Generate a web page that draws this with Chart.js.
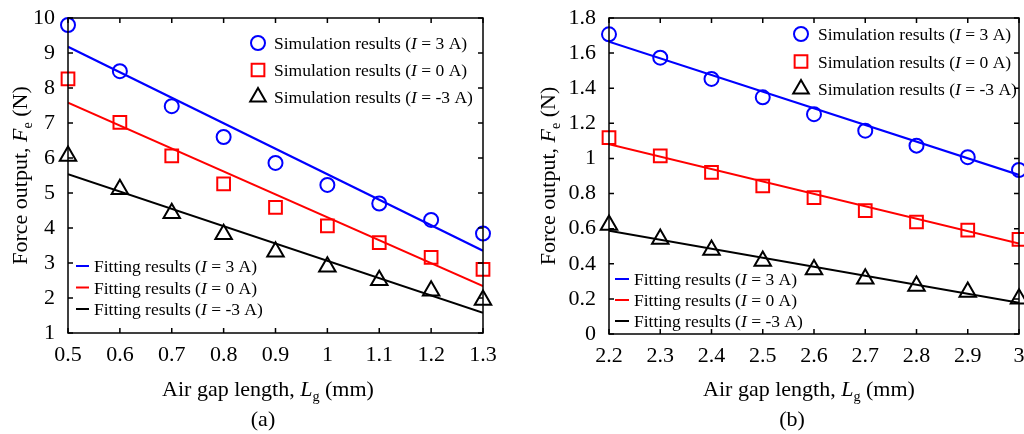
<!DOCTYPE html>
<html>
<head>
<meta charset="utf-8">
<script src="https://cdn.jsdelivr.net/npm/chart.js@4"></script>
<style>
  html, body { margin: 0; padding: 0; background: #fff; }
  .panel { position: absolute; top: 0; width: 512px; height: 434px; }
  #panel-a { left: 0; }
  #panel-b { left: 512px; }
</style>
</head>
<body>
<div class="panel" id="panel-a"><canvas id="chart-a" width="512" height="434"></canvas></div>
<div class="panel" id="panel-b"><canvas id="chart-b" width="512" height="434"></canvas></div>
<script>
// (a) air gap 0.5 - 1.3 mm
const gapA = [0.5, 0.6, 0.7, 0.8, 0.9, 1.0, 1.1, 1.2, 1.3];
const simA_pos3 = [9.80, 8.48, 7.48, 6.60, 5.86, 5.23, 4.70, 4.23, 3.84];
const simA_zero = [8.26, 7.02, 6.06, 5.26, 4.59, 4.06, 3.58, 3.16, 2.82];
const simA_neg3 = [6.06, 5.11, 4.42, 3.82, 3.32, 2.89, 2.51, 2.21, 1.94];
const fitGapA = [0.5, 1.3];
const fitA_pos3 = [9.18, 3.35];
const fitA_zero = [7.58, 2.34];
const fitA_neg3 = [5.54, 1.58];

// (b) air gap 2.2 - 3.0 mm
const gapB = [2.2, 2.3, 2.4, 2.5, 2.6, 2.7, 2.8, 2.9, 3.0];
const simB_pos3 = [1.707, 1.574, 1.453, 1.348, 1.252, 1.158, 1.073, 1.007, 0.934];
const simB_zero = [1.118, 1.014, 0.921, 0.843, 0.777, 0.703, 0.638, 0.592, 0.539];
const simB_neg3 = [0.621, 0.541, 0.478, 0.416, 0.368, 0.315, 0.273, 0.239, 0.201];
const fitGapB = [2.2, 3.0];
const fitB_pos3 = [1.665, 0.906];
const fitB_zero = [1.081, 0.516];
const fitB_neg3 = [0.588, 0.178];

const legendSim = ["3", "0", "-3"];
const legendFit = ["3", "0", "-3"];

const SERIF = "'Liberation Serif', 'Times New Roman', serif";
const BLUE = "#0000ff";
const RED = "#ff0000";
const BLACK = "#000000";

function pts(xs, ys) {
  return xs.map((x, i) => ({ x: x, y: ys[i] }));
}

// text made of runs: {t, it (italic), sub (subscript)}
function richWidth(ctx, runs, size) {
  let w = 0;
  runs.forEach(r => {
    const s = r.sub ? size * 0.65 : size;
    ctx.font = (r.it ? "italic " : "") + s + "px " + SERIF;
    w += ctx.measureText(r.t).width;
  });
  return w;
}

function drawRich(ctx, runs, x, y, size, align) {
  let cx = x;
  if (align === "center") cx = x - richWidth(ctx, runs, size) / 2;
  ctx.textBaseline = "alphabetic";
  ctx.textAlign = "left";
  runs.forEach(r => {
    const s = r.sub ? size * 0.65 : size;
    ctx.font = (r.it ? "italic " : "") + s + "px " + SERIF;
    ctx.fillText(r.t, cx, r.sub ? y + size * 0.22 : y);
    cx += ctx.measureText(r.t).width;
  });
}

const framePlugin = {
  id: "frame",
  afterDraw(chart, args, o) {
    const ctx = chart.ctx;
    const a = chart.chartArea;
    const xs = chart.scales.x, ys = chart.scales.y;
    ctx.save();
    ctx.strokeStyle = "#000";
    ctx.lineWidth = 1.5;
    ctx.strokeRect(a.left, a.top, a.right - a.left, a.bottom - a.top);
    const tl = 5;
    ctx.beginPath();
    xs.ticks.forEach(t => {
      const px = xs.getPixelForValue(t.value);
      ctx.moveTo(px, a.bottom); ctx.lineTo(px, a.bottom - tl);
      ctx.moveTo(px, a.top); ctx.lineTo(px, a.top + tl);
    });
    ys.ticks.forEach(t => {
      const py = ys.getPixelForValue(t.value);
      ctx.moveTo(a.left, py); ctx.lineTo(a.left + tl, py);
      ctx.moveTo(a.right, py); ctx.lineTo(a.right - tl, py);
    });
    ctx.stroke();

    ctx.fillStyle = "#000";
    // axis titles
    drawRich(ctx, [{ t: "Air gap length, " }, { t: "L", it: true }, { t: "g", sub: true }, { t: " (mm)" }],
      o.xTitleX, 396, 22, "center");
    ctx.font = "22px " + SERIF;
    ctx.textAlign = "center";
    ctx.fillText(o.label, o.labelX, 426);
    ctx.save();
    ctx.translate(o.yTitleX, (a.top + a.bottom) / 2);
    ctx.rotate(-Math.PI / 2);
    drawRich(ctx, [{ t: "Force output, " }, { t: "F", it: true }, { t: "e", sub: true }, { t: " (N)" }],
      0, 0, 22, "center");
    ctx.restore();

    // simulation legend
    const styles = ["circle", "rect", "triangle"];
    const cols = [BLUE, RED, BLACK];
    const radii = [7, 9, 9];
    o.simRows.forEach((ry, i) => {
      ctx.strokeStyle = cols[i];
      ctx.fillStyle = "rgba(0,0,0,0)";
      ctx.lineWidth = 2;
      Chart.helpers.drawPoint(ctx, { pointStyle: styles[i], radius: radii[i], borderWidth: 2 }, o.simMarkX, ry);
      ctx.fillStyle = "#000";
      drawRich(ctx, [{ t: "Simulation results (" }, { t: "I", it: true }, { t: " = " + legendSim[i] + " A)" }],
        o.simTextX, ry + 6, 17.5);
    });
    // fitting legend
    o.fitRows.forEach((ry, i) => {
      ctx.strokeStyle = cols[i];
      ctx.lineWidth = 2;
      ctx.beginPath();
      ctx.moveTo(o.fitLine[0], ry);
      ctx.lineTo(o.fitLine[1], ry);
      ctx.stroke();
      ctx.fillStyle = "#000";
      drawRich(ctx, [{ t: "Fitting results (" }, { t: "I", it: true }, { t: " = " + legendFit[i] + " A)" }],
        o.fitTextX, ry + 6, 17.5);
    });
    ctx.restore();
  }
};

function makeChart(id, cfg) {
  const tickFont = { family: SERIF, size: 22 };
  const fmt = v => String(Number(v.toFixed(1)));
  return new Chart(document.getElementById(id), {
    type: "scatter",
    data: {
      datasets: [
        { data: pts(cfg.gap, cfg.sim[0]), pointStyle: "circle", pointRadius: 7, borderColor: BLUE, backgroundColor: "transparent", pointBorderWidth: 2, showLine: false, clip: false },
        { data: pts(cfg.gap, cfg.sim[1]), pointStyle: "rect", pointRadius: 9, borderColor: RED, backgroundColor: "transparent", pointBorderWidth: 2, showLine: false, clip: false },
        { data: pts(cfg.gap, cfg.sim[2]), pointStyle: "triangle", pointRadius: 9.5, borderColor: BLACK, backgroundColor: "transparent", pointBorderWidth: 2, showLine: false, clip: false },
        { type: "line", data: pts(cfg.fitGap, cfg.fit[0]), borderColor: BLUE, borderWidth: 2.2, pointRadius: 0 },
        { type: "line", data: pts(cfg.fitGap, cfg.fit[1]), borderColor: RED, borderWidth: 2, pointRadius: 0 },
        { type: "line", data: pts(cfg.fitGap, cfg.fit[2]), borderColor: BLACK, borderWidth: 2, pointRadius: 0 }
      ]
    },
    options: {
      responsive: false,
      animation: false,
      devicePixelRatio: 1,
      layout: { autoPadding: false, padding: { left: 0, right: cfg.padRight, top: 18, bottom: 0 } },
      plugins: {
        legend: { display: false },
        tooltip: { enabled: false },
        frame: cfg.frame
      },
      scales: {
        x: {
          type: "linear", min: cfg.xMin, max: cfg.xMax,
          grid: { display: false }, border: { display: false },
          ticks: { stepSize: 0.1, font: tickFont, color: "#000", padding: 1, maxRotation: 0, autoSkip: false, callback: fmt },
          afterFit: s => { s.height = cfg.xAxisH; s.paddingLeft = 0; s.paddingRight = 0; }
        },
        y: {
          min: cfg.yMin, max: cfg.yMax,
          grid: { display: false }, border: { display: false },
          ticks: { stepSize: cfg.yStep, font: tickFont, color: "#000", padding: 5, autoSkip: false, callback: fmt },
          afterFit: s => { s.width = cfg.yAxisW; s.paddingTop = 0; s.paddingBottom = 0; }
        }
      }
    },
    plugins: [framePlugin]
  });
}

makeChart("chart-a", {
  gap: gapA, sim: [simA_pos3, simA_zero, simA_neg3],
  fitGap: fitGapA, fit: [fitA_pos3, fitA_zero, fitA_neg3],
  xMin: 0.5, xMax: 1.3, yMin: 1, yMax: 10, yStep: 1,
  padRight: 29, yAxisW: 68, xAxisH: 101,
  frame: {
    xTitleX: 268, labelX: 263, label: "(a)", yTitleX: 27,
    simRows: [43, 70, 97], simMarkX: 258, simTextX: 274,
    fitRows: [266, 287.5, 309], fitLine: [76, 89], fitTextX: 94
  }
});

makeChart("chart-b", {
  gap: gapB, sim: [simB_pos3, simB_zero, simB_neg3],
  fitGap: fitGapB, fit: [fitB_pos3, fitB_zero, fitB_neg3],
  xMin: 2.2, xMax: 3.0, yMin: 0, yMax: 1.8, yStep: 0.2,
  padRight: 5, yAxisW: 97, xAxisH: 100,
  frame: {
    xTitleX: 297, labelX: 280, label: "(b)", yTitleX: 43,
    simRows: [34, 61.5, 89], simMarkX: 289, simTextX: 306,
    fitRows: [279, 300, 321], fitLine: [103, 117], fitTextX: 122
  }
});
</script>
</body>
</html>
